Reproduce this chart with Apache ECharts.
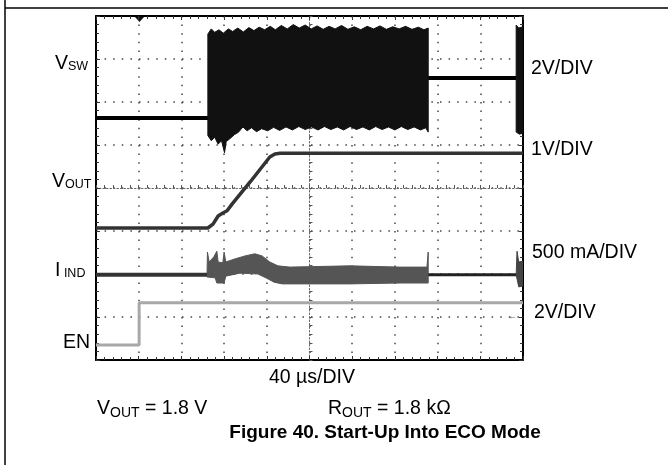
<!DOCTYPE html>
<html>
<head>
<meta charset="utf-8">
<script src="https://cdn.jsdelivr.net/npm/echarts@6/dist/echarts.min.js"></script>
<style>
html, body { margin: 0; padding: 0; background: #fff; }
#chart { width: 668px; height: 465px; }
</style>
</head>
<body>
<div id="chart"></div>
<script>
// scope screen in divisions, origin at the centre of the graticule
const xRange = [-5, 5];
const yRange = [-4, 4];

// V_SW (2 V/div)
const vswLow = [[-5, 1.63], [-2.38, 1.63]];
const vswBurstTop = [[-2.38, 3.58], [-2.30, 3.70], [-2.22, 3.62], [-2.12, 3.68], [-2.02, 3.60], [-1.90, 3.70],
  [-1.80, 3.64], [-1.68, 3.72], [-1.55, 3.63], [-1.42, 3.73], [-1.30, 3.66], [-1.18, 3.74], [-1.05, 3.68],
  [-0.92, 3.76], [-0.80, 3.68], [-0.66, 3.78], [-0.52, 3.70], [-0.38, 3.80], [-0.24, 3.72], [-0.10, 3.79],
  [0.04, 3.70], [0.18, 3.77], [0.32, 3.69], [0.46, 3.76], [0.60, 3.70], [0.75, 3.78], [0.90, 3.69],
  [1.05, 3.75], [1.20, 3.68], [1.35, 3.76], [1.50, 3.70], [1.65, 3.77], [1.80, 3.69], [1.95, 3.75],
  [2.10, 3.70], [2.25, 3.76], [2.40, 3.69], [2.55, 3.74], [2.68, 3.68], [2.78, 3.72]];
const vswBurstBot = [[-2.38, 1.22], [-2.30, 1.10], [-2.22, 1.18], [-2.14, 1.02], [-2.06, 1.10], [-1.99, 0.82],
  [-1.95, 1.08], [-1.86, 1.15], [-1.76, 1.24], [-1.66, 1.30], [-1.56, 1.42], [-1.46, 1.33], [-1.36, 1.40],
  [-1.24, 1.31], [-1.12, 1.38], [-0.98, 1.33], [-0.84, 1.41], [-0.70, 1.34], [-0.55, 1.42], [-0.40, 1.35],
  [-0.25, 1.43], [-0.10, 1.36], [0.05, 1.42], [0.20, 1.35], [0.35, 1.43], [0.50, 1.36], [0.65, 1.42],
  [0.80, 1.35], [0.95, 1.43], [1.10, 1.36], [1.25, 1.42], [1.40, 1.35], [1.55, 1.43], [1.70, 1.36],
  [1.85, 1.42], [2.00, 1.35], [2.15, 1.43], [2.30, 1.36], [2.45, 1.42], [2.60, 1.35], [2.72, 1.40], [2.78, 1.30]];
const vswMid = [[2.78, 2.56], [4.84, 2.56]];
const vswBurst2Top = [[4.84, 3.79], [4.90, 3.72], [5.0, 3.75]];
const vswBurst2Bot = [[4.84, 1.30], [4.92, 1.25], [5.0, 1.28]];

// V_OUT (1 V/div)
const vout = [[-5, -0.93], [-2.38, -0.93], [-2.26, -0.84], [-2.14, -0.65], [-2.03, -0.58], [-1.93, -0.53],
  [-1.81, -0.37], [-1.39, 0.14], [-0.93, 0.72], [-0.81, 0.79], [-0.69, 0.81], [5, 0.81]];

// I_IND (500 mA/div)
const iindLow = [[-5, -2.02], [-2.40, -2.02]];
const iindTop = [[-2.40, -2.02], [-2.39, -1.49], [-2.35, -1.72], [-2.24, -1.60], [-2.17, -1.47], [-2.14, -1.72],
  [-2.03, -1.74], [-2.00, -1.49], [-1.96, -1.72], [-1.75, -1.65], [-1.51, -1.58], [-1.28, -1.53],
  [-1.11, -1.58], [-0.93, -1.72], [-0.74, -1.81], [-0.46, -1.84], [0.95, -1.81], [2.12, -1.84],
  [2.75, -1.84], [2.78, -1.49]];
const iindBot = [[-2.40, -2.07], [-2.21, -2.09], [-2.17, -2.21], [-2.00, -2.21], [-1.96, -2.05], [-1.63, -1.98],
  [-1.21, -2.00], [-1.02, -2.09], [-0.83, -2.19], [-0.64, -2.23], [0.95, -2.23], [2.12, -2.21], [2.78, -2.21]];
const iindMid = [[2.78, -2.02], [4.84, -2.02]];
const iindBurst2Top = [[4.84, -2.02], [4.86, -1.47], [4.90, -1.72], [5.0, -1.70]];
const iindBurst2Bot = [[4.84, -2.02], [4.90, -2.30], [5.0, -2.28]];

// EN (2 V/div)
const en = [[-5, -3.65], [-3.99, -3.65], [-3.99, -2.67], [5, -2.67]];

const myChart = echarts.init(document.getElementById('chart'));

const lineSeries = (data, color, width) => ({
  type: 'line', data: data, showSymbol: false, silent: true,
  lineStyle: { color: color, width: width }
});

const bandSeries = (top, bot, color) => ({
  type: 'custom', silent: true, clip: true,
  data: [0],
  renderItem: (params, api) => {
    const pts = top.concat(bot.slice().reverse()).map(p => api.coord(p));
    return { type: 'polygon', shape: { points: pts }, style: { fill: color, stroke: color, lineWidth: 1 } };
  }
});

const borderAxis = (pos, isX) => ({
  type: 'value', position: pos, min: isX ? xRange[0] : yRange[0], max: isX ? xRange[1] : yRange[1], interval: 1,
  axisLine: { show: true, onZero: false, lineStyle: { color: '#000', width: 2 } },
  axisTick: { show: true, inside: true, length: 4, lineStyle: { color: '#333' } },
  minorTick: { show: true, splitNumber: 5, length: 3, lineStyle: { color: '#333' } },
  axisLabel: { show: false }, splitLine: { show: false }
});

const centreAxis = (isX) => ({
  type: 'value', min: isX ? xRange[0] : yRange[0], max: isX ? xRange[1] : yRange[1], interval: 1,
  position: isX ? 'bottom' : 'left',
  axisLine: { show: true, onZero: true, lineStyle: { color: '#666', width: 1, type: [1.5, 2] } },
  axisTick: { show: true, inside: true, length: 3, lineStyle: { color: '#555' } },
  minorTick: { show: true, splitNumber: 5, length: 3, lineStyle: { color: '#555' } },
  axisLabel: { show: false },
  splitLine: { show: true, lineStyle: { color: '#444', width: 1.5, type: [1.5, 7.1] } }
});

const font = '"Liberation Sans", Arial, sans-serif';
const rich = {
  m: { fontSize: 19.5, fontFamily: font, color: '#000' },
  s: { fontSize: 14, fontFamily: font, color: '#000', padding: [8, 0, 0, 0] },
  t: { fontSize: 12.5, fontFamily: font, color: '#000', padding: [6, 0, 0, 0] }
};
const label = (x, y, text, extra) => ({
  type: 'text', x: x, y: y, silent: true,
  style: Object.assign({ text: text, rich: rich, font: '19.5px ' + font, fill: '#000', verticalAlign: 'middle' }, extra || {})
});

myChart.setOption({
  animation: false,
  grid: { left: 96, right: 145, top: 16, bottom: 105 },
  xAxis: [centreAxis(true), borderAxis('top', true), borderAxis('bottom', true)],
  yAxis: [centreAxis(false), borderAxis('left', false), borderAxis('right', false)],
  series: [
    lineSeries(en, '#a8a8a8', 3),
    lineSeries(vswLow, '#000', 4),
    bandSeries(vswBurstTop, vswBurstBot, '#111'),
    lineSeries(vswMid, '#000', 4),
    bandSeries(vswBurst2Top, vswBurst2Bot, '#111'),
    lineSeries(vout, '#333', 3.5),
    lineSeries(iindLow, '#333', 4),
    bandSeries(iindTop, iindBot, '#555'),
    lineSeries(iindMid, '#222', 3),
    bandSeries(iindBurst2Top, iindBurst2Bot, '#444')
  ],
  graphic: [
    // table frame
    { type: 'line', silent: true, shape: { x1: 5, y1: 0, x2: 5, y2: 465 }, style: { stroke: '#000', lineWidth: 1.5 } },
    { type: 'line', silent: true, shape: { x1: 5, y1: 8, x2: 668, y2: 8 }, style: { stroke: '#000', lineWidth: 1.5 } },
    // trigger marker and EN ground marker
    { type: 'polygon', silent: true, shape: { points: [[135, 17], [144, 17], [139.5, 22]] }, style: { fill: '#111' } },
    { type: 'text', x: 508, y: 317, silent: true, style: { text: '←', font: '9px ' + font, fill: '#666', verticalAlign: 'middle' } },
    // channel labels
    label(55, 64, '{m|V}{t|SW}'),
    label(52, 182, '{m|V}{t|OUT}'),
    label(55, 271, '{m|I}{t| IND}'),
    label(63, 343, '{m|EN}'),
    label(531, 69, '2V/DIV'),
    label(531, 150, '1V/DIV'),
    label(532, 253, '500 mA/DIV'),
    label(534, 313, '2V/DIV'),
    label(312, 378, '40 µs/DIV', { align: 'center' }),
    label(97, 409, '{m|V}{s|OUT}{m| = 1.8 V}'),
    label(328, 409, '{m|R}{s|OUT}{m| = 1.8 kΩ}'),
    label(385, 433, 'Figure 40. Start-Up Into ECO Mode', { align: 'center', font: 'bold 19px ' + font })
  ]
});
</script>
</body>
</html>
